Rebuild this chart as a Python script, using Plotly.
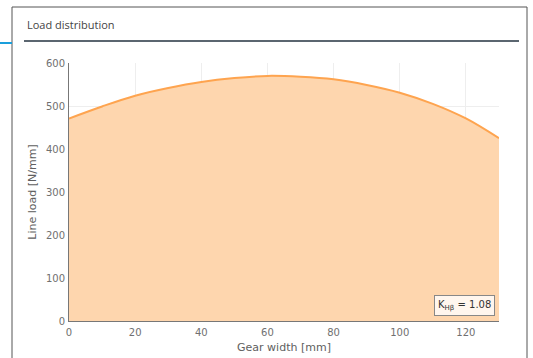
import plotly.graph_objects as go

# Data
gear_width = [0, 10, 20, 30, 40, 50, 60, 70, 80, 90, 100, 110, 120, 130]
line_load = [471, 499, 524, 542, 556, 565, 570, 568, 562, 549, 531, 505, 471, 425]
x_ticks = [0, 20, 40, 60, 80, 100, 120]
y_ticks = [0, 100, 200, 300, 400, 500, 600]
k_label = "K<sub>Hβ</sub> = 1.08"

W, H = 533, 358
L, R, T, B = 69, 34, 63, 37
pw, ph = W - L - R, H - T - B

def px(x):
    return (x - L) / pw

def py(y):
    return (H - B - y) / ph

fig = go.Figure()
fig.add_trace(go.Scatter(
    x=gear_width, y=line_load, mode="lines", line=dict(color="#fea44f", width=2, shape="spline"),
    fill="tozeroy", fillcolor="#fed6ae", hoverinfo="skip", showlegend=False,
))

tick_font = dict(family="DejaVu Sans, Verdana, sans-serif", size=10, color="#707070")
title_font = dict(family="DejaVu Sans, Verdana, sans-serif", size=11, color="#606060")

fig.update_layout(
    width=W, height=H, autosize=False,
    margin=dict(l=L, r=R, t=T, b=B, pad=0),
    paper_bgcolor="white", plot_bgcolor="white",
    xaxis=dict(range=[0, 130], tickvals=x_ticks, tickfont=tick_font, automargin=False,
               showgrid=True, gridcolor="#eeeeee", zeroline=False,
               showline=True, linecolor="#777", linewidth=1,
               ticks="outside", ticklen=2, tickcolor="rgba(0,0,0,0)",
               title=dict(text="Gear width [mm]", font=title_font, standoff=6)),
    yaxis=dict(range=[0, 600], tickvals=y_ticks, tickfont=tick_font, automargin=False,
               showgrid=True, gridcolor="#eeeeee", zeroline=False,
               showline=True, linecolor="#777", linewidth=1,
               ticks="outside", ticklen=1, tickcolor="rgba(0,0,0,0)",
               title=dict(text="Line load [N/mm]", font=title_font, standoff=7)),
    shapes=[
        dict(type="rect", xref="paper", yref="paper", x0=px(12), x1=px(527), y0=py(370), y1=py(7),
             line=dict(color="#555", width=1), fillcolor="rgba(0,0,0,0)", layer="below"),
        dict(type="line", xref="paper", yref="paper", x0=px(0), x1=px(12), y0=py(43), y1=py(43),
             line=dict(color="#1a9fdc", width=2)),
        dict(type="line", xref="paper", yref="paper", x0=px(24), x1=px(519), y0=py(41), y1=py(41),
             line=dict(color="#5b6670", width=2)),
    ],
    annotations=[
        dict(text="Load distribution", xref="paper", yref="paper", x=px(25), y=py(25),
             xanchor="left", yanchor="middle", showarrow=False,
             font=dict(family="Open Sans, sans-serif", size=11, color="#444")),
        dict(text=k_label, xref="paper", yref="paper", x=px(495), y=py(316),
             xanchor="right", yanchor="bottom", showarrow=False,
             bordercolor="#888", borderwidth=1, borderpad=3, bgcolor="#fff6ee",
             font=dict(family="DejaVu Sans, Verdana, sans-serif", size=10, color="#333")),
    ],
)

fig.write_html("out.html", config={"displayModeBar": False},
               post_script="document.body.style.margin='0';")
